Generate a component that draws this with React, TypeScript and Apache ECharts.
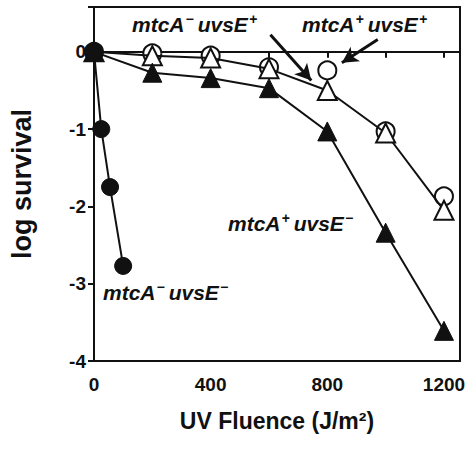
import React, { useEffect, useRef } from "react";
import * as echarts from "echarts";

const mmUvMinus = [[0, 0], [25, -1.0], [55, -1.75], [100, -2.77]];
const mmUvPlusFluence = [0, 200, 400, 600, 800, 1000, 1200];
const mtcMinusUvsPlus = [0, -0.05, -0.08, -0.22, -0.5, -1.05, -2.05];
const mtcPlusUvsPlus = [0, -0.02, -0.05, -0.2, -0.24, -1.03, -1.87];
const mtcPlusUvsMinus = [0, -0.27, -0.34, -0.47, -1.03, -2.34, -3.61];
const xTickLabels = [0, 400, 800, 1200];
const yTickLabels = [0, -1, -2, -3, -4];

const FONT = "Liberation Sans, Arial, sans-serif";

export default function App() {
  const ref = useRef<HTMLDivElement>(null);
  useEffect(() => {
    const chart = echarts.init(ref.current!, null, { renderer: "svg" });
    const pair = (ys: number[]) => mmUvPlusFluence.map((x, i) => [x, ys[i]]);
    const rich = {
      i: { fontFamily: FONT, fontStyle: "italic", fontWeight: "bold", fontSize: 21, fill: "#111" },
      s: { fontFamily: FONT, fontStyle: "italic", fontWeight: "bold", fontSize: 14, fill: "#111", verticalAlign: "top", padding: [0, 4, 10, 1] },
    } as any;
    const label = (x: number, y: number, a: string, b: string) => ({
      type: "text",
      x,
      y,
      style: {
        text: `{i|mtcA}{s|${a}}{i|uvsE}{s|${b}}`,
        rich,
        fontFamily: FONT,
      },
    });
    chart.setOption({
      animation: false,
      grid: { left: 92, top: 7, right: 7, bottom: 90, show: true, borderColor: "#111", borderWidth: 2, containLabel: false },
      xAxis: {
        type: "value",
        min: 0,
        max: 1255,
        interval: 200,
        name: "UV Fluence (J/m²)",
        nameLocation: "middle",
        nameGap: 48,
        nameTextStyle: { fontFamily: FONT, fontWeight: "bold", fontSize: 23, color: "#111" },
        axisLine: { lineStyle: { color: "#111", width: 2 } },
        axisTick: { inside: false, length: 6, lineStyle: { color: "#111", width: 2 } },
        axisLabel: {
          fontFamily: FONT,
          fontSize: 19,
          fontWeight: "bold",
          color: "#111",
          margin: 14,
          formatter: (v: number) => (xTickLabels.includes(v) ? String(v) : ""),
        },
        splitLine: { show: false },
      },
      yAxis: {
        type: "value",
        min: -4,
        max: 0.58,
        interval: 1,
        name: "log survival",
        nameLocation: "middle",
        nameGap: 59,
        nameRotate: 90,
        nameTextStyle: { fontFamily: FONT, fontWeight: "bold", fontSize: 27, color: "#111" },
        axisLine: { lineStyle: { color: "#111", width: 2 } },
        axisTick: { inside: false, length: 6, lineStyle: { color: "#111", width: 2 } },
        axisLabel: {
          fontFamily: FONT,
          fontSize: 19,
          fontWeight: "bold",
          color: "#111",
          margin: 8,
          formatter: (v: number) => (yTickLabels.includes(v) ? (v === 0 ? "0" : "-" + Math.abs(v)) : ""),
        },
        splitLine: { show: false },
      },
      series: [
        {
          type: "line",
          data: mmUvMinus,
          symbol: "circle",
          symbolSize: 17,
          lineStyle: { color: "#111", width: 2 },
          itemStyle: { color: "#111", borderColor: "#111" },
          z: 5,
        },
        {
          type: "line",
          data: pair(mtcPlusUvsMinus),
          symbol: "triangle",
          symbolSize: 19,
          lineStyle: { color: "#111", width: 2 },
          itemStyle: { color: "#111", borderColor: "#111" },
          z: 4,
        },
        {
          type: "line",
          data: pair(mtcMinusUvsPlus),
          symbol: "triangle",
          symbolSize: 19,
          lineStyle: { color: "#111", width: 2 },
          itemStyle: { color: "#fff", borderColor: "#111", borderWidth: 2 },
          z: 3,
          markLine: {
            silent: true,
            symbol: ["none", "arrow"],
            symbolSize: [13, 16],
            lineStyle: { color: "#111", width: 3, type: "solid" },
            label: { show: false },
            data: [
              [{ coord: [605, 0.22] }, { coord: [745, -0.37] }],
              [{ coord: [973, 0.16] }, { coord: [850, -0.14] }],
            ],
          },
        },
        {
          type: "line",
          data: pair(mtcPlusUvsPlus),
          symbol: "circle",
          symbolSize: 18,
          lineStyle: { width: 0, opacity: 0 },
          itemStyle: { color: "#fff", borderColor: "#111", borderWidth: 2 },
          z: 2,
        },
      ],
      graphic: [
        label(132, 12, "−", "+"),
        label(302, 12, "+", "+"),
        label(228, 211, "+", "−"),
        label(103, 280, "−", "−"),
      ],
    });
    return () => chart.dispose();
  }, []);
  return <div ref={ref} style={{ width: 468, height: 451, position: "absolute", left: 0, top: 0, background: "#fff" }} />;
}
